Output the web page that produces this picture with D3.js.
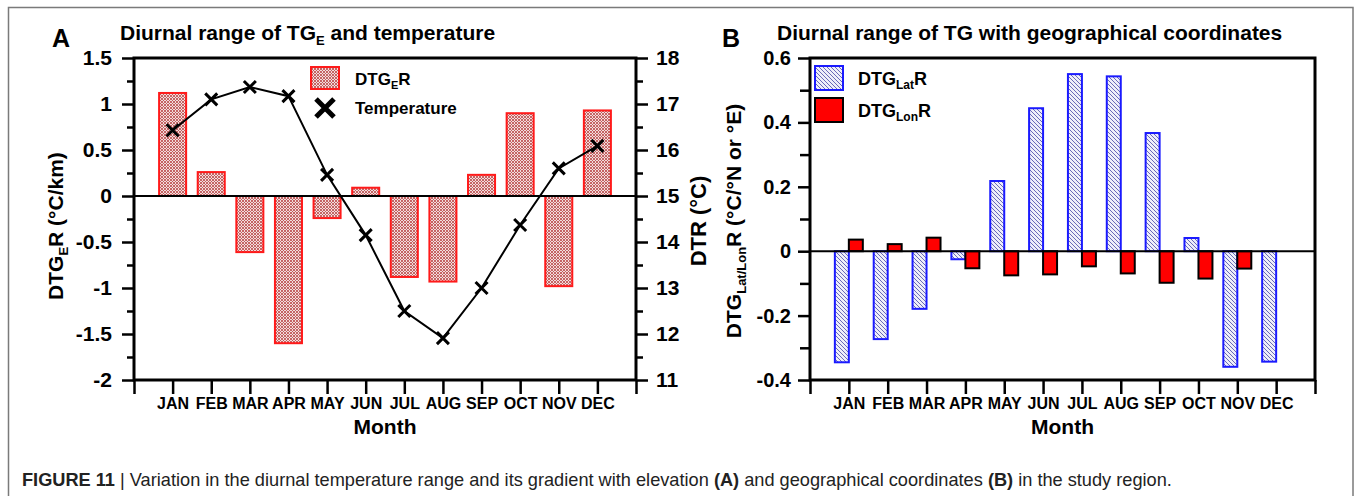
<!DOCTYPE html>
<html><head><meta charset="utf-8">
<script src="https://cdn.jsdelivr.net/npm/d3@7"></script>
<style>
html,body{margin:0;padding:0;background:#fff;}
text{font-family:"Liberation Sans",Arial,sans-serif;}
</style></head>
<body>
<svg id="c" width="1356" height="496"></svg>
<script>
// ---- data ----
const months = ["JAN","FEB","MAR","APR","MAY","JUN","JUL","AUG","SEP","OCT","NOV","DEC"];
const dtgER = [1.12, 0.26, -0.61, -1.60, -0.24, 0.09, -0.88, -0.93, 0.23, 0.90, -0.98, 0.93];
const temperature = [16.43, 17.10, 17.37, 17.17, 15.46, 14.15, 12.50, 11.91, 13.00, 14.37, 15.60, 16.09];
const dtgLatR = [-0.345, -0.273, -0.179, -0.025, 0.218, 0.444, 0.550, 0.543, 0.367, 0.041, -0.359, -0.343];
const dtgLonR = [0.036, 0.022, 0.042, -0.053, -0.075, -0.072, -0.047, -0.069, -0.098, -0.085, -0.054, 0.000];
const leftTicksA = [1.5, 1, 0.5, 0, -0.5, -1, -1.5, -2];
const leftMinorA = [1.25, 0.75, 0.25, -0.25, -0.75, -1.25, -1.75];
const rightTicksA = [18, 17, 16, 15, 14, 13, 12, 11];
const rightMinorA = [17.5, 16.5, 15.5, 14.5, 13.5, 12.5, 11.5];
const ticksB = [0.6, 0.4, 0.2, 0, -0.2, -0.4];
const minorB = [0.5, 0.3, 0.1, -0.1, -0.3];

const svg = d3.select("#c");
const FONT = '"Liberation Sans",Arial,sans-serif';

// frame
svg.append("rect").attr("x",8.5).attr("y",7.5).attr("width",1344.5).attr("height",500)
  .attr("fill","none").attr("stroke","#7a7a7a").attr("stroke-width",1.5);

// patterns
const defs = svg.append("defs");
const pr = defs.append("pattern").attr("id","redHatch").attr("patternUnits","userSpaceOnUse")
  .attr("width",3).attr("height",3);
pr.append("rect").attr("width",3).attr("height",3).attr("fill","#f2dcdc");
pr.append("path").attr("d","M0,0L3,3M3,0L0,3").attr("stroke","#c05858").attr("stroke-width",0.9);
const pb = defs.append("pattern").attr("id","blueHatch").attr("patternUnits","userSpaceOnUse")
  .attr("width",4).attr("height",4);
pb.append("rect").attr("width",4).attr("height",4).attr("fill","#eeeefa");
pb.append("path").attr("d","M-1,-1L5,5M-1,3L1,5M3,-1L5,1").attr("stroke","#6a6ab8").attr("stroke-width",1);

function styleAxis(g){
  g.select(".domain").remove();
  g.selectAll(".tick line").attr("stroke","#000").attr("stroke-width",2.5);
  g.selectAll(".tick text").attr("fill","#000").style("font-family",FONT).style("font-weight","bold");
}

// ================= Panel A =================
const xA = d3.scaleLinear().domain([0,13]).range([134,636]);
const yL = d3.scaleLinear().domain([-2,1.5]).range([380,58]);
const yR = d3.scaleLinear().domain([11,18]).range([380,58]);
const bwA = xA(0.7)-xA(0);

const gA = svg.append("g");
gA.selectAll("rect.bar").data(dtgER).join("rect")
  .attr("x",(d,i)=>xA(i+1)-bwA/2)
  .attr("y",d=>yL(Math.max(0,d)))
  .attr("width",bwA)
  .attr("height",d=>Math.abs(yL(d)-yL(0)))
  .attr("fill","url(#redHatch)").attr("stroke","#ff1a1a").attr("stroke-width",2);
gA.append("line").attr("x1",xA(0)).attr("x2",xA(13)).attr("y1",yL(0)).attr("y2",yL(0))
  .attr("stroke","#000").attr("stroke-width",2);
const lineA = d3.line().x((d,i)=>xA(i+1)).y(d=>yR(d));
gA.append("path").datum(temperature).attr("d",lineA).attr("fill","none")
  .attr("stroke","#000").attr("stroke-width",2);
gA.selectAll("path.mk").data(temperature).join("path").attr("class","mk")
  .attr("d",(d,i)=>{const x=xA(i+1),y=yR(d),s=6;return `M${x-s},${y-s}L${x+s},${y+s}M${x-s},${y+s}L${x+s},${y-s}`;})
  .attr("stroke","#000").attr("stroke-width",3);

gA.append("g").attr("transform",`translate(${xA(0)},0)`)
  .call(d3.axisLeft(yL).tickValues(leftMinorA).tickSize(7).tickFormat("")).call(styleAxis);
gA.append("g").attr("transform",`translate(${xA(0)},0)`)
  .call(d3.axisLeft(yL).tickValues(leftTicksA).tickSize(12).tickPadding(10).tickFormat(d=>String(d)))
  .call(styleAxis).selectAll(".tick text").style("font-size","21px");
gA.append("g").attr("transform",`translate(${xA(13)},0)`)
  .call(d3.axisRight(yR).tickValues(rightMinorA).tickSize(7).tickFormat("")).call(styleAxis);
gA.append("g").attr("transform",`translate(${xA(13)},0)`)
  .call(d3.axisRight(yR).tickValues(rightTicksA).tickSize(12).tickPadding(8).tickFormat(d=>String(d)))
  .call(styleAxis).selectAll(".tick text").style("font-size","21px");
gA.append("g").attr("transform",`translate(0,${yL(-2)})`)
  .call(d3.axisBottom(xA).tickValues(d3.range(0,14)).tickSize(14).tickPadding(4)
    .tickFormat(d=>(d>=1&&d<=12)?months[d-1]:""))
  .call(styleAxis).selectAll(".tick text").style("font-size","16px");
gA.append("rect").attr("x",xA(0)).attr("y",yL(1.5)).attr("width",xA(13)-xA(0)).attr("height",yL(-2)-yL(1.5))
  .attr("fill","none").attr("stroke","#000").attr("stroke-width",3);

svg.append("text").attr("x",52).attr("y",47).style("font-size","25px").style("font-weight","bold").text("A");
const tA = svg.append("text").attr("x",120).attr("y",40).style("font-size","21px").style("font-weight","bold");
tA.append("tspan").text("Diurnal range of TG");
tA.append("tspan").attr("dy",5).style("font-size","13px").text("E");
tA.append("tspan").attr("dy",-5).text(" and temperature");

svg.append("text").attr("x",(xA(0)+xA(13))/2).attr("y",434).attr("text-anchor","middle")
  .style("font-size","21px").style("font-weight","bold").text("Month");

const ylA = svg.append("text").attr("transform","translate(63,226) rotate(-90)").attr("text-anchor","middle")
  .style("font-size","21px").style("font-weight","bold");
ylA.append("tspan").text("DTG");
ylA.append("tspan").attr("dy",5).style("font-size","13px").text("E");
ylA.append("tspan").attr("dy",-5).text("R (°C/km)");

svg.append("text").attr("transform","translate(706,221) rotate(-90)").attr("text-anchor","middle")
  .style("font-size","22px").style("font-weight","bold").text("DTR (°C)");

// legend A
svg.append("rect").attr("x",311).attr("y",67).attr("width",28).attr("height",22)
  .attr("fill","url(#redHatch)").attr("stroke","#ff1a1a").attr("stroke-width",2);
const lgA = svg.append("text").attr("x",355).attr("y",85).style("font-size","17px").style("font-weight","bold");
lgA.append("tspan").text("DTG");
lgA.append("tspan").attr("dy",4).style("font-size","11px").text("E");
lgA.append("tspan").attr("dy",-4).text("R");
svg.append("path").attr("d","M316,99L334,117M316,117L334,99").attr("stroke","#000").attr("stroke-width",5);
svg.append("text").attr("x",355).attr("y",114).style("font-size","17px").style("font-weight","bold").text("Temperature");

// ================= Panel B =================
const xB = d3.scaleLinear().domain([0,13]).range([810,1315]);
const yB = d3.scaleLinear().domain([-0.4,0.6]).range([380,58]);
const bwB = xB(0.36)-xB(0);
const gB = svg.append("g");

gB.selectAll("rect.lat").data(dtgLatR).join("rect").attr("class","lat")
  .attr("x",(d,i)=>xB(i+1)-bwB)
  .attr("y",d=>yB(Math.max(0,d)))
  .attr("width",bwB)
  .attr("height",d=>Math.abs(yB(d)-yB(0)))
  .attr("fill","url(#blueHatch)").attr("stroke","#1a1aff").attr("stroke-width",2);
gB.selectAll("rect.lon").data(dtgLonR).join("rect").attr("class","lon")
  .attr("x",(d,i)=>xB(i+1))
  .attr("y",d=>yB(Math.max(0,d)))
  .attr("width",bwB)
  .attr("height",d=>Math.abs(yB(d)-yB(0)))
  .attr("fill","#ff0000").attr("stroke","#000").attr("stroke-width",2);
gB.append("line").attr("x1",xB(0)).attr("x2",xB(13)).attr("y1",yB(0)).attr("y2",yB(0))
  .attr("stroke","#000").attr("stroke-width",2);

gB.append("g").attr("transform",`translate(${xB(0)},0)`)
  .call(d3.axisLeft(yB).tickValues(minorB).tickSize(10).tickFormat("")).call(styleAxis);
gB.append("g").attr("transform",`translate(${xB(0)},0)`)
  .call(d3.axisLeft(yB).tickValues(ticksB).tickSize(12).tickPadding(7).tickFormat(d=>String(d)))
  .call(styleAxis).selectAll(".tick text").style("font-size","20px");
gB.append("g").attr("transform",`translate(0,${yB(-0.4)})`)
  .call(d3.axisBottom(xB).tickValues(d3.range(0,14)).tickSize(14).tickPadding(4)
    .tickFormat(d=>(d>=1&&d<=12)?months[d-1]:""))
  .call(styleAxis).selectAll(".tick text").style("font-size","16px");
gB.append("rect").attr("x",xB(0)).attr("y",yB(0.6)).attr("width",xB(13)-xB(0)).attr("height",yB(-0.4)-yB(0.6))
  .attr("fill","none").attr("stroke","#000").attr("stroke-width",3);

svg.append("text").attr("x",722).attr("y",47).style("font-size","25px").style("font-weight","bold").text("B");
svg.append("text").attr("x",777).attr("y",40).style("font-size","21px").style("font-weight","bold")
  .text("Diurnal range of TG with geographical coordinates");
svg.append("text").attr("x",(xB(0)+xB(13))/2).attr("y",434).attr("text-anchor","middle")
  .style("font-size","21px").style("font-weight","bold").text("Month");

const ylB = svg.append("text").attr("transform","translate(741,221) rotate(-90)").attr("text-anchor","middle")
  .style("font-size","21px").style("font-weight","bold");
ylB.append("tspan").text("DTG");
ylB.append("tspan").attr("dy",5).style("font-size","13px").text("Lat/Lon");
ylB.append("tspan").attr("dy",-5).text("R (°C/°N or °E)");

// legend B
svg.append("rect").attr("x",815).attr("y",66).attr("width",28).attr("height",24)
  .attr("fill","url(#blueHatch)").attr("stroke","#1a1aff").attr("stroke-width",2);
const lgB1 = svg.append("text").attr("x",858).attr("y",85).style("font-size","18px").style("font-weight","bold");
lgB1.append("tspan").text("DTG");
lgB1.append("tspan").attr("dy",4).style("font-size","12px").text("Lat");
lgB1.append("tspan").attr("dy",-4).text("R");
svg.append("rect").attr("x",815).attr("y",98).attr("width",28).attr("height",24)
  .attr("fill","#ff0000").attr("stroke","#000").attr("stroke-width",2);
const lgB2 = svg.append("text").attr("x",858).attr("y",117).style("font-size","18px").style("font-weight","bold");
lgB2.append("tspan").text("DTG");
lgB2.append("tspan").attr("dy",4).style("font-size","12px").text("Lon");
lgB2.append("tspan").attr("dy",-4).text("R");

// caption
const cap = svg.append("text").attr("x",22).attr("y",486).style("font-size","18.2px").attr("fill","#222");
cap.append("tspan").style("font-weight","bold").text("FIGURE 11");
cap.append("tspan").text(" | Variation in the diurnal temperature range and its gradient with elevation ");
cap.append("tspan").style("font-weight","bold").text("(A)");
cap.append("tspan").text(" and geographical coordinates ");
cap.append("tspan").style("font-weight","bold").text("(B)");
cap.append("tspan").text(" in the study region.");
</script>
</body></html>
